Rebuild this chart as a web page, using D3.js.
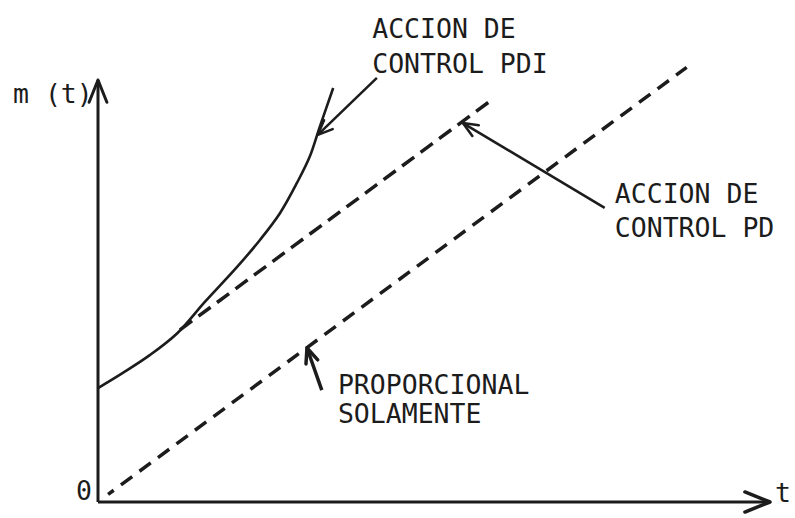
<!DOCTYPE html>
<html>
<head>
<meta charset="utf-8">
<script src="https://cdn.jsdelivr.net/npm/d3@7"></script>
<style>
  html, body { margin: 0; padding: 0; background: #ffffff; }
  svg { display: block; }
  text { font-family: "DejaVu Sans Mono", "Liberation Mono", monospace; fill: #1c1c1c; }
</style>
</head>
<body>
<svg id="chart" width="795" height="518"></svg>
<script>
// ---- data (arbitrary units: t horizontal, m(t) vertical) ----
const proportionalLine = [[0.15, 0.18], [8.76, 10.3]];
const pdLine = [[1.22, 4.08], [5.86, 9.53]];
const pdiCurve = [
  [0.0, 2.70], [0.37, 3.06], [0.77, 3.48], [1.18, 4.00], [1.59, 4.74],
  [2.07, 5.57], [2.41, 6.21], [2.71, 6.85], [2.96, 7.56], [3.15, 8.18],
  [3.30, 8.89], [3.50, 9.81]
];
// annotation arrows: [from, to]
const arrowPDI = [[4.15, 10.05], [3.27, 8.70]];
const arrowPD = [[7.54, 6.97], [5.43, 8.98]];
const arrowProp = [[3.33, 2.65], [3.11, 3.65]];
// labels: [t, m, lines]
const labelPDI = { pos: [4.08, 11.0], lines: ["ACCION DE", "CONTROL PDI"], step: 0.83 };
const labelPD = { pos: [7.69, 7.09], lines: ["ACCION DE", "CONTROL PD"], step: 0.81 };
const labelProp = { pos: [3.57, 2.56], lines: ["PROPORCIONAL", "SOLAMENTE"], step: 0.69 };
const axisLabels = { y: "m (t)", x: "t", origin: "0" };

// ---- scales ----
const svg = d3.select("#chart");
const x = d3.scaleLinear().domain([0, 10]).range([98, 770]);
const y = d3.scaleLinear().domain([0, 10]).range([502, 80]);
const ink = "#1c1c1c";

const line = d3.line().x(d => x(d[0])).y(d => y(d[0] === undefined ? 0 : d[1]));

// axes
const yAxisPts = [[0, 0], [0, 10]];
const xAxisPts = [[0, 0], [10, 0]];
svg.append("path").attr("d", line(yAxisPts)).attr("stroke", ink).attr("stroke-width", 3).attr("fill", "none");
svg.append("path").attr("d", line(xAxisPts)).attr("stroke", ink).attr("stroke-width", 3).attr("fill", "none");

function arrowHead(from, to, len, ang, sw) {
  const x1 = x(from[0]), y1 = y(from[1]), x2 = x(to[0]), y2 = y(to[1]);
  const a = Math.atan2(y2 - y1, x2 - x1);
  const p1 = [x2 - len * Math.cos(a - ang), y2 - len * Math.sin(a - ang)];
  const p2 = [x2 - len * Math.cos(a + ang), y2 - len * Math.sin(a + ang)];
  svg.append("path")
    .attr("d", `M${p1[0]},${p1[1]}L${x2},${y2}L${p2[0]},${p2[1]}`)
    .attr("stroke", ink).attr("stroke-width", sw).attr("fill", "none")
    .attr("stroke-linecap", "round").attr("stroke-linejoin", "round");
}
arrowHead(yAxisPts[0], yAxisPts[1], 24, 0.38, 3);
arrowHead(xAxisPts[0], xAxisPts[1], 27, 0.38, 3.5);

// proportional (dashed)
svg.append("path").attr("d", line(proportionalLine))
  .attr("stroke", ink).attr("stroke-width", 3.5).attr("fill", "none")
  .attr("stroke-dasharray", "14 9").attr("stroke-dashoffset", 7);
// PD (dashed)
svg.append("path").attr("d", line(pdLine))
  .attr("stroke", ink).attr("stroke-width", 3.5).attr("fill", "none")
  .attr("stroke-dasharray", "15 8");
// PDI curve
svg.append("path").attr("d", d3.line().x(d => x(d[0])).y(d => y(d[1])).curve(d3.curveCatmullRom)(pdiCurve))
  .attr("stroke", ink).attr("stroke-width", 2.6).attr("fill", "none");

// annotation arrows
function arrow(pts, sw) {
  svg.append("path").attr("d", line(pts)).attr("stroke", ink).attr("stroke-width", sw).attr("fill", "none");
  arrowHead(pts[0], pts[1], 16, 0.4, sw);
}
arrow(arrowPDI, 2.5);
arrow(arrowPD, 2.6);
arrow(arrowProp, 3.5);

// labels
function label(l) {
  const t = svg.append("text").attr("font-size", 26.5);
  l.lines.forEach((s, i) => {
    t.append("tspan").attr("x", x(l.pos[0])).attr("y", y(l.pos[1] - i * l.step)).text(s);
  });
}
label(labelPDI);
label(labelPD);
label(labelProp);

svg.append("text").attr("x", 13).attr("y", 103).attr("font-size", 26.5).text(axisLabels.y);
svg.append("text").attr("x", 76).attr("y", 500).attr("font-size", 26.5).text(axisLabels.origin);
svg.append("text").attr("x", 775).attr("y", 502).attr("font-size", 26.5).text(axisLabels.x);
</script>
</body>
</html>
